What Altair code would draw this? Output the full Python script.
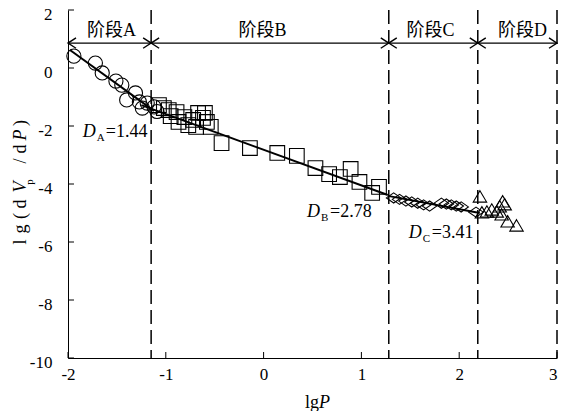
import altair as alt
import pandas as pd

# ---------------- data ----------------
circle_x = [-1.94, -1.72, -1.65, -1.51, -1.45, -1.40, -1.31, -1.27, -1.24, -1.19, -1.12, -1.09]
circle_y = [0.41, 0.17, -0.17, -0.45, -0.59, -1.10, -0.86, -1.17, -1.38, -1.21, -1.34, -1.50]

square_x = [-1.07, -1.02, -0.97, -0.95, -0.89, -0.87, -0.81, -0.77, -0.72, -0.69, -0.67, -0.62,
            -0.60, -0.58, -0.54, -0.43, -0.14, 0.14, 0.34, 0.53, 0.67, 0.78, 0.89, 0.98, 1.11, 1.18]
square_y = [-1.28, -1.38, -1.45, -1.66, -1.52, -1.86, -1.69, -1.97, -1.79, -2.03, -1.55, -1.72,
            -1.55, -1.86, -2.03, -2.59, -2.76, -2.93, -3.03, -3.45, -3.66, -3.76, -3.48, -3.93, -4.31, -4.10]

diamond_x = [1.33, 1.39, 1.455, 1.515, 1.576, 1.636, 1.697, 1.818, 1.869, 1.919, 1.970, 2.020, 2.172]
diamond_y = [-4.48, -4.53, -4.59, -4.62, -4.66, -4.72, -4.76, -4.66, -4.69, -4.72, -4.76, -4.79, -4.97]

triangle_x = [2.212, 2.232, 2.283, 2.333, 2.384, 2.414, 2.444, 2.465, 2.434, 2.495, 2.586]
triangle_y = [-4.45, -5.00, -4.97, -4.90, -4.97, -4.79, -4.62, -4.72, -5.07, -5.31, -5.45]

# fitted lines (start and end points)
fit_id = ["A", "A", "B", "B", "C", "C"]
fit_x = [-1.98, -1.12, -1.25, 1.27, 1.27, 2.21]
fit_y = [0.62, -1.48, -1.28, -4.38, -4.41, -5.00]

# stage boundaries and labels
stage_bounds = [-2.0, -1.15, 1.28, 2.19, 3.0]
stage_labels = ["阶段A", "阶段B", "阶段C", "阶段D"]
stage_label_x = [-1.556, -0.01, 1.707, 2.646]
stage_label_y = 1.10
arrow_y = 0.86

# fractal dimension annotations
dim_sub = ["A", "B", "C"]
dim_val = ["=1.44", "=2.78", "=3.41"]
dim_x = [-1.848, 0.444, 1.485]
dim_y = [-2.38, -5.14, -5.86]

x_ticks = [-2, -1, 0, 1, 2, 3]
y_ticks = [-10, -8, -6, -4, -2, 0, 2]

SERIF = "Liberation Serif"
CJK = "Liberation Serif, Noto Sans CJK SC"
FS = 17

XS = alt.Scale(domain=[-2, 3], nice=False, zero=False)
YS = alt.Scale(domain=[-10, 2], nice=False, zero=False)

x_axis = alt.Axis(values=x_ticks, ticks=False, grid=False, domainColor="black", domainWidth=1,
                  labelFont=SERIF, labelFontSize=FS, labelColor="black", labelPadding=8,
                  labelFlush=False, title=None, labelExpr="'' + datum.value",
                  labelAlign={"condition": {"test": "datum.value == 3", "value": "right"}, "value": "center"})
y_axis = alt.Axis(values=y_ticks, ticks=False, grid=False, domainColor="black", domainWidth=1,
                  labelFont=SERIF, labelFontSize=FS, labelColor="black", labelPadding=16,
                  labelOffset=4, labelFlush=False, title=None, labelExpr="'' + datum.value")


def X(field):
    return alt.X(field, type="quantitative", scale=XS, axis=x_axis)


def Y(field):
    return alt.Y(field, type="quantitative", scale=YS, axis=y_axis)


# inward ticks
ytick_df = pd.DataFrame({"y": y_ticks, "x": [-2] * len(y_ticks), "x2": [-2 + 6 / 98] * len(y_ticks)})
yticks = alt.Chart(ytick_df).mark_rule(color="black", strokeWidth=1).encode(
    x=X("x"), x2="x2", y=Y("y"))
xtick_df = pd.DataFrame({"x": x_ticks, "y": [-10] * len(x_ticks), "y2": [-10 + 6 / 29] * len(x_ticks)})
xticks = alt.Chart(xtick_df).mark_rule(color="black", strokeWidth=1).encode(
    x=X("x"), y=Y("y"), y2="y2")

# dashed stage boundaries
dash_df = pd.DataFrame({"x": stage_bounds[1:], "y": [2] * 4, "y2": [-10] * 4})
dashes = alt.Chart(dash_df).mark_rule(color="black", strokeWidth=1.5, strokeDash=[14, 6]).encode(
    x=X("x"), y=Y("y"), y2="y2")

# arrows
arr_df = pd.DataFrame({"x": stage_bounds[:-1], "x2": stage_bounds[1:], "y": [arrow_y] * 4})
arrows = alt.Chart(arr_df).mark_rule(color="black", strokeWidth=1.3).encode(
    x=X("x"), x2="x2", y=Y("y"))
RIGHT = "M-1,-0.65L0,0L-1,0.65"
LEFT = "M1,-0.65L0,0L1,0.65"
heads_r = alt.Chart(pd.DataFrame({"x": stage_bounds[1:], "y": [arrow_y] * 4})).mark_point(
    shape=RIGHT, filled=False, color="black", strokeWidth=1.4, size=256, opacity=1).encode(
    x=X("x"), y=Y("y"))
heads_l = alt.Chart(pd.DataFrame({"x": stage_bounds[:-1], "y": [arrow_y] * 4})).mark_point(
    shape=LEFT, filled=False, color="black", strokeWidth=1.4, size=256, opacity=1).encode(
    x=X("x"), y=Y("y"))

stage_txt = alt.Chart(pd.DataFrame({"x": stage_label_x, "y": [stage_label_y] * 4, "t": stage_labels})).mark_text(
    font=CJK, fontSize=18, color="black", align="center", baseline="alphabetic").encode(
    x=X("x"), y=Y("y"), text="t:N")


# data points
def pts(xs, ys, shape, size):
    return alt.Chart(pd.DataFrame({"x": xs, "y": ys})).mark_point(
        shape=shape, filled=False, color="black", strokeWidth=1.1, size=size, opacity=1).encode(
        x=X("x"), y=Y("y"))


circles = pts(circle_x, circle_y, "circle", 200)
squares = pts(square_x, square_y, "square", 215)
diamonds = pts(diamond_x, diamond_y, "M-1,0L0,-0.7L1,0L0,0.7Z", 210)
triangles = pts(triangle_x, triangle_y, "M0,-0.95L1,0.75L-1,0.75Z", 180)

fits = alt.Chart(pd.DataFrame({"id": fit_id, "x": fit_x, "y": fit_y})).mark_line(
    color="black", strokeWidth=2).encode(x=X("x"), y=Y("y"), detail="id:N")

# D annotations
dd = pd.DataFrame({"x": dim_x, "y": dim_y, "sub": dim_sub, "val": dim_val})
dims_D = alt.Chart(dd).mark_text(text="D", font=SERIF, fontStyle="italic", fontSize=18, color="black",
                                 align="left", baseline="alphabetic").encode(x=X("x"), y=Y("y"))
dims_sub = alt.Chart(dd).mark_text(font=SERIF, fontSize=11, color="black", align="left",
                                   baseline="alphabetic", dx=14, dy=4).encode(x=X("x"), y=Y("y"), text="sub:N")
dims_val = alt.Chart(dd).mark_text(font=SERIF, fontSize=18, color="black", align="left",
                                   baseline="alphabetic", dx=23).encode(x=X("x"), y=Y("y"), text="val:N")


# axis titles built from pieces (italic letters, subscript)
def ptxt(t, x, y, size=FS, style="normal", angle=0, align="left"):
    return alt.Chart(pd.DataFrame({"t": [t]})).mark_text(
        font=SERIF, fontSize=size, fontStyle=style, color="black", align=align,
        baseline="alphabetic", angle=angle).encode(x=alt.value(x), y=alt.value(y), text="t:N")


xt1 = ptxt("lg", 237, 398, size=18)
xt2 = ptxt("P", 251, 398, size=18, style="italic")

# y title: rotated, reading bottom to top (plot coords), one glyph group at a time
yb = -42
ytitle = [
    ptxt("l", yb, 232, angle=270, size=18, align="center"),
    ptxt("g", yb, 219, angle=270, size=18, align="center"),
    ptxt("(", yb, 206, angle=270, size=18, align="center"),
    ptxt("d", yb, 194, angle=270, size=18, align="center"),
    ptxt("V", yb, 177, angle=270, size=18, style="italic", align="center"),
    ptxt("p", yb + 7, 172, angle=270, size=11, align="center"),
    ptxt("/", yb, 151, angle=270, size=18, align="center"),
    ptxt("d", yb, 139, angle=270, size=18, align="center"),
    ptxt("P", yb, 125, angle=270, size=18, style="italic", align="center"),
    ptxt(")", yb, 113, angle=270, size=18, align="center"),
]

chart = alt.layer(
    yticks, xticks, dashes, arrows, heads_r, heads_l, stage_txt,
    fits, circles, squares, diamonds, triangles,
    dims_D, dims_sub, dims_val, xt1, xt2, *ytitle
).properties(
    width=489, height=348,
    autosize=alt.AutoSizeParams(type="none"),
    padding={"left": 60, "top": 2, "right": 1, "bottom": 53},
).configure_view(stroke=None)

chart.save("out.html", embed_options={"renderer": "svg", "actions": False})
